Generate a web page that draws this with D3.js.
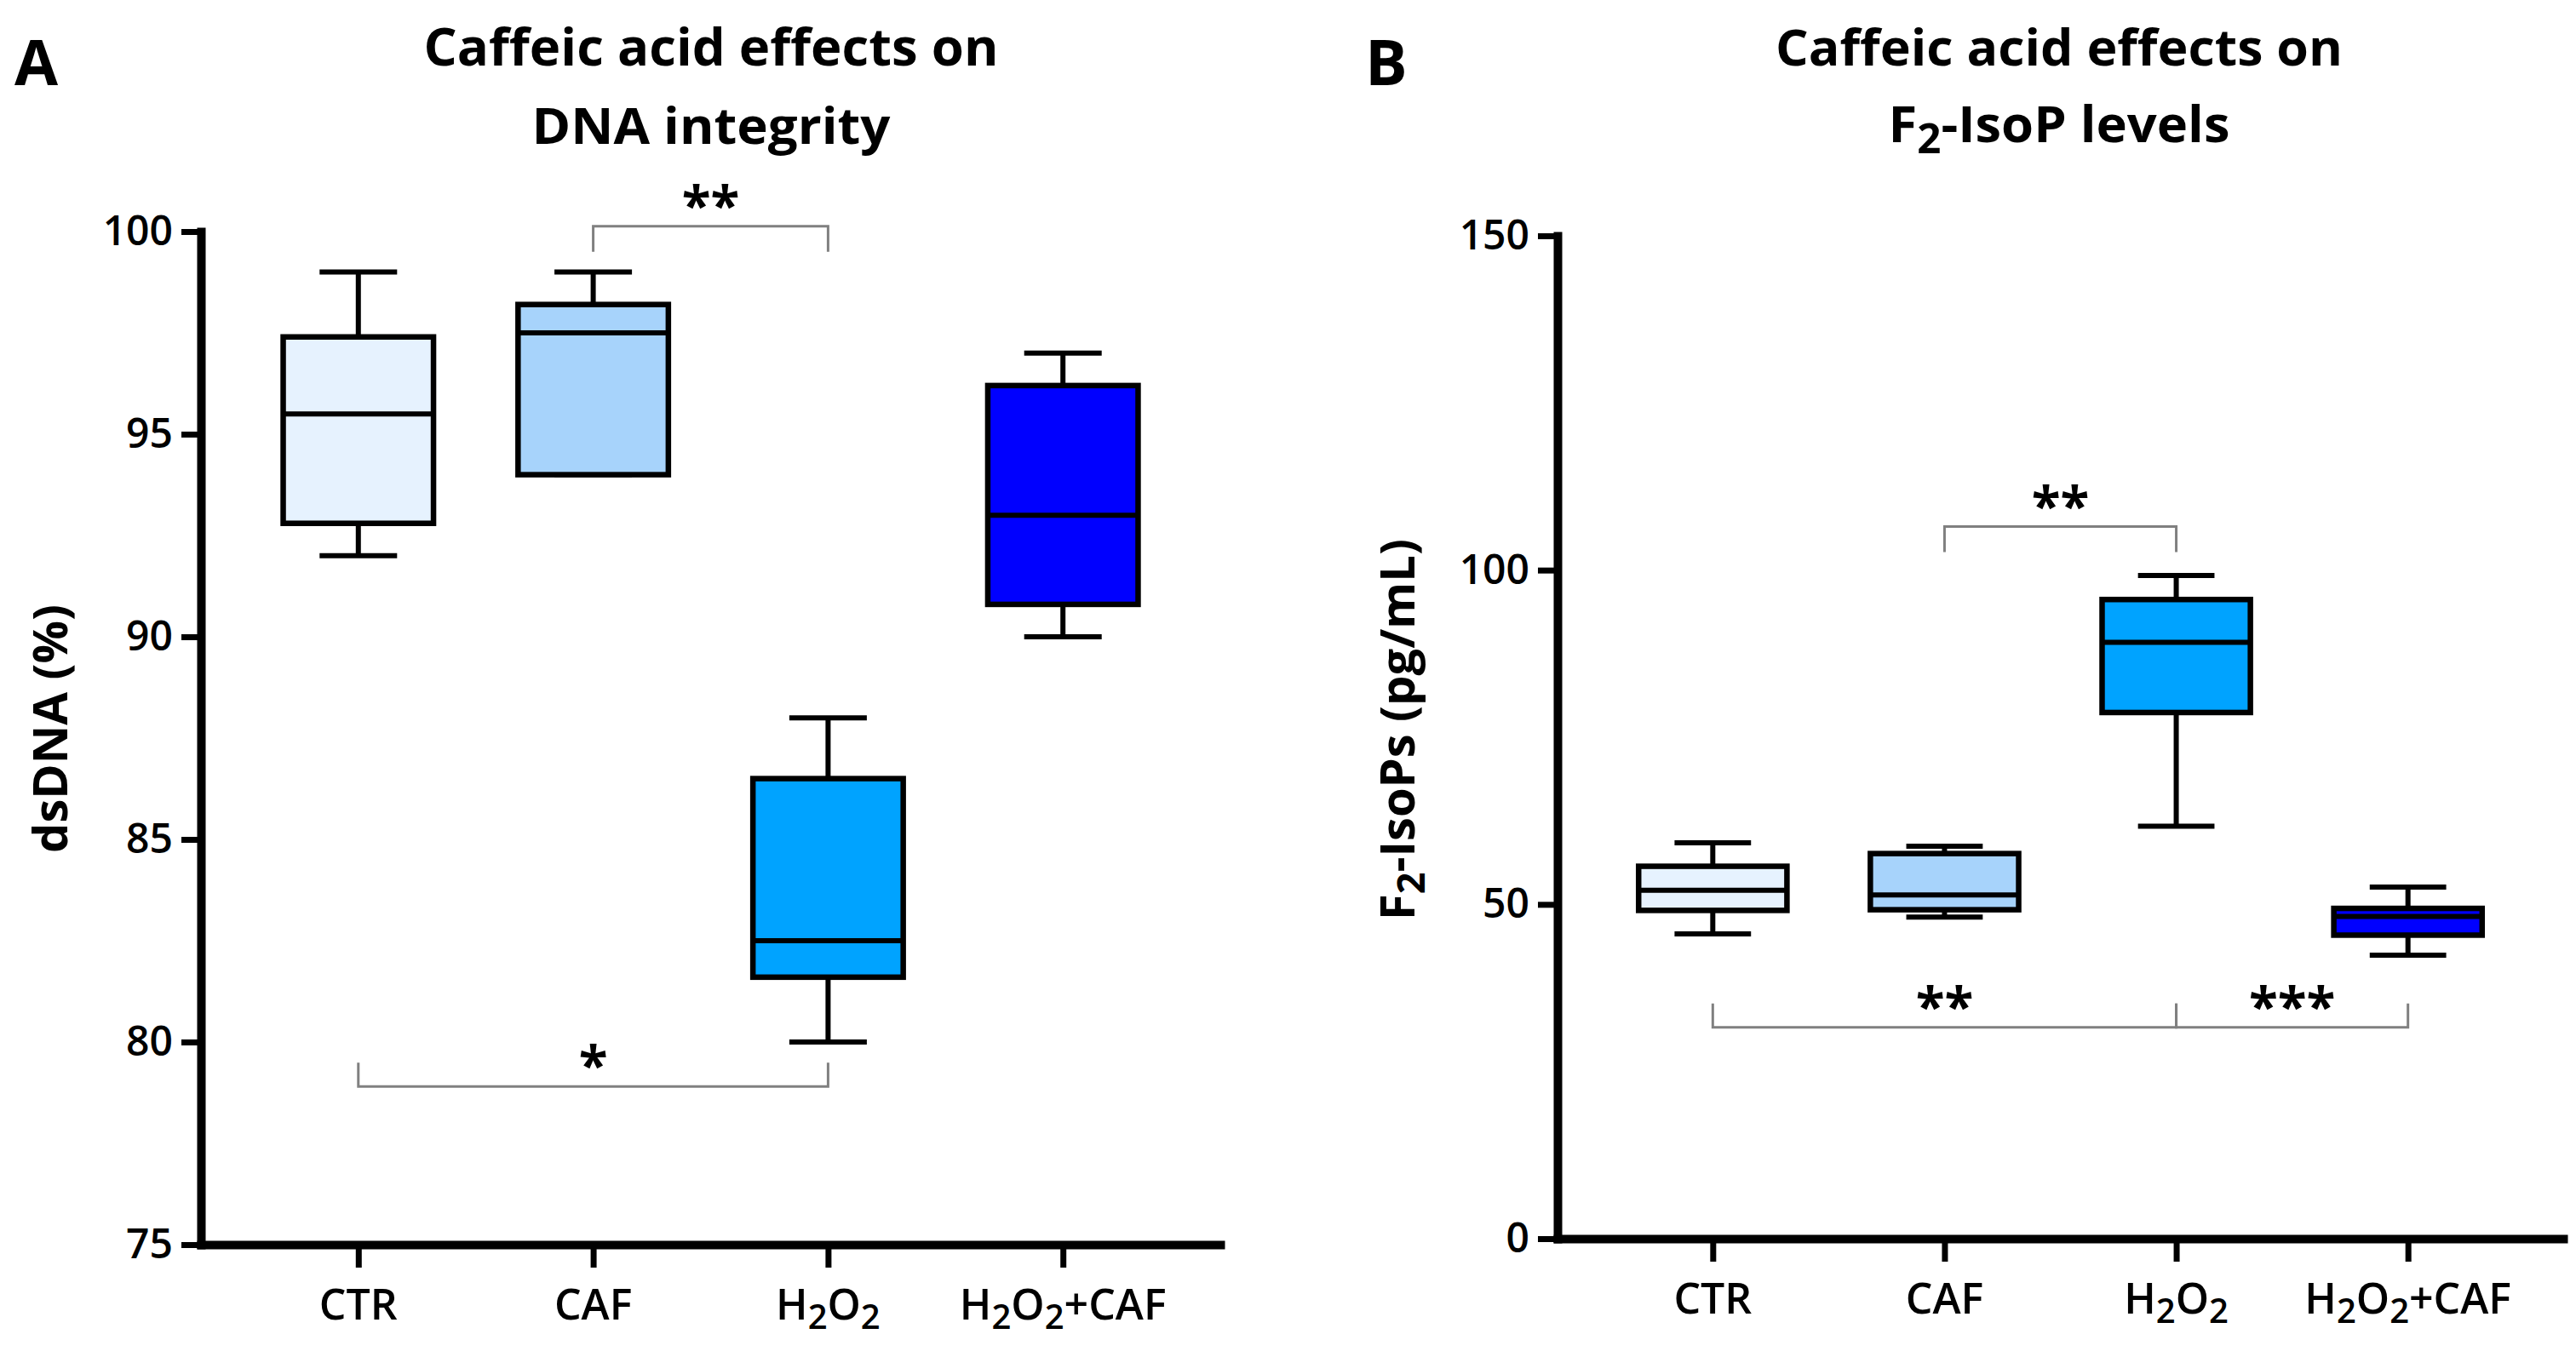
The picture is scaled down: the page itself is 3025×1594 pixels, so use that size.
<!DOCTYPE html>
<html><head><meta charset="utf-8">
<script src="https://cdn.jsdelivr.net/npm/d3@7"></script>
<style>body{margin:0;background:#fff}svg{display:block}</style>
</head><body>
<svg id="chart" width="3025" height="1594"></svg>
<script>
// ---------- data ----------
const categories = ["CTR", "CAF", "H2O2", "H2O2+CAF"];
const boxColors = ["#e6f2fe", "#a7d3fb", "#00a3ff", "#0000ff"];

// Panel A: dsDNA (%)
const dnaMin    = [92.0, 94.0, 80.0, 90.0];
const dnaQ1     = [92.8, 94.0, 81.6, 90.8];
const dnaMedian = [95.5, 97.5, 82.5, 93.0];
const dnaQ3     = [97.4, 98.2, 86.5, 96.2];
const dnaMax    = [99.0, 99.0, 88.0, 97.0];
const dnaTicks  = [75, 80, 85, 90, 95, 100];
const dnaSigFrom  = ["CAF", "CTR"];
const dnaSigTo    = ["H2O2", "H2O2"];
const dnaSigLabel = ["**", "*"];
const dnaSigLevel = [100.13, 78.9];
const dnaSigDir   = [1, -1];

// Panel B: F2-IsoPs (pg/mL)
const isoMin    = [45.6, 48.1, 61.7, 42.4];
const isoQ1     = [49.1, 49.2, 78.7, 45.4];
const isoMedian = [52.1, 51.4, 89.2, 48.2];
const isoQ3     = [55.7, 57.6, 95.6, 49.4];
const isoMax    = [59.2, 58.7, 99.2, 52.6];
const isoTicks  = [0, 50, 100, 150];
const isoSigFrom  = ["CAF", "CTR", "H2O2"];
const isoSigTo    = ["H2O2", "H2O2", "H2O2+CAF"];
const isoSigLabel = ["**", "**", "***"];
const isoSigLevel = [106.5, 31.6, 31.6];
const isoSigDir   = [1, -1, -1];

// ---------- drawing ----------
const FONT = "'Open Sans', 'DejaVu Sans', sans-serif";
const svg = d3.select("#chart");
svg.append("rect").attr("width", 3025).attr("height", 1594).attr("fill", "#fff");

function addSubText(sel, str, fs) {
  // digits rendered as subscripts
  const parts = str.match(/\d+|[^\d]+/g);
  const shift = 0.22 * fs;
  let prevSub = false;
  parts.forEach(p => {
    const isSub = /^\d+$/.test(p);
    const t = sel.append("tspan").text(p);
    if (isSub) {
      t.attr("font-size", fs * 0.8).attr("dy", shift);
    } else if (prevSub) {
      t.attr("dy", -shift);
    }
    prevSub = isSub;
  });
}

function fitWidth(sel, target, cx) {
  const w = sel.node().getComputedTextLength();
  const s = target / w;
  sel.attr("x", 0).attr("transform", `translate(${cx},0) scale(${s},1)`);
}

function panel(o) {
  const g = svg.append("g");
  const x = d3.scalePoint().domain(categories).range([o.x0, o.x1]).padding(0.67);
  const y = d3.scaleLinear().domain(o.domain).range([o.yBottom, o.yTop]);
  const step = x.step();
  const bw = step * 0.64, cw = step * 0.33;

  // y axis
  const ya = g.append("g").attr("transform", `translate(${o.x0},0)`)
    .call(d3.axisLeft(y).tickValues(o.ticks).tickSize(23).tickSizeOuter(0).tickPadding(10));
  ya.attr("font-family", null).attr("font-size", null);
  ya.select(".domain").attr("stroke", "#000").attr("stroke-width", 10).attr("stroke-linecap", "square");
  ya.selectAll(".tick line").attr("stroke", "#000").attr("stroke-width", 7);
  ya.selectAll(".tick text").attr("font-family", FONT).attr("font-size", 48)
    .attr("font-weight", 600).attr("fill", "#000");

  // x axis
  const xa = g.append("g").attr("transform", `translate(0,${o.yBottom})`)
    .call(d3.axisBottom(x).tickSize(27).tickSizeOuter(0).tickFormat(() => ""));
  xa.select(".domain").attr("stroke", "#000").attr("stroke-width", 10).attr("stroke-linecap", "square");
  xa.selectAll(".tick line").attr("stroke", "#000").attr("stroke-width", 7);

  g.selectAll(".xlab").data(categories).enter().append("text")
    .attr("class", "xlab")
    .attr("x", d => x(d)).attr("y", o.yBottom + 88)
    .attr("text-anchor", "middle").attr("font-family", FONT)
    .attr("font-size", 50).attr("font-weight", 600).attr("fill", "#000")
    .each(function (d) { addSubText(d3.select(this), d, 50); });

  // boxes
  const bg = g.append("g");
  categories.forEach((c, i) => {
    const cx = x(c);
    const line = (x1, y1, x2, y2) => bg.append("line")
      .attr("x1", x1).attr("y1", y1).attr("x2", x2).attr("y2", y2)
      .attr("stroke", "#000").attr("stroke-width", 6);
    line(cx, y(o.max[i]), cx, y(o.q3[i]));
    line(cx, y(o.q1[i]), cx, y(o.min[i]));
    line(cx - cw / 2, y(o.max[i]), cx + cw / 2, y(o.max[i]));
    line(cx - cw / 2, y(o.min[i]), cx + cw / 2, y(o.min[i]));
    bg.append("rect")
      .attr("x", cx - bw / 2).attr("width", bw)
      .attr("y", y(o.q3[i])).attr("height", y(o.q1[i]) - y(o.q3[i]))
      .attr("fill", boxColors[i]).attr("stroke", "#000").attr("stroke-width", 6.5);
    line(cx - bw / 2, y(o.median[i]), cx + bw / 2, y(o.median[i]));
  });

  // significance brackets
  o.sigFrom.forEach((f, j) => {
    const x1 = x(f), x2 = x(o.sigTo[j]), ly = y(o.sigLevel[j]);
    const leg = o.sigDir[j] > 0 ? 30 : -28;
    g.append("path")
      .attr("d", `M${x1},${ly + leg}V${ly}H${x2}V${ly + leg}`)
      .attr("fill", "none").attr("stroke", "#808080").attr("stroke-width", 3);
    g.append("text")
      .attr("x", (x1 + x2) / 2).attr("y", ly - 38 + 36)
      .attr("text-anchor", "middle").attr("font-family", FONT)
      .attr("font-size", 62).attr("font-weight", 700).attr("fill", "#000")
      .text(o.sigLabel[j]);
  });

  // y label
  const yl = g.append("text")
    .attr("transform", `translate(${o.ylabX},${o.ylabY}) rotate(-90)`)
    .attr("text-anchor", "middle").attr("font-family", FONT)
    .attr("font-size", 56).attr("font-weight", 700).attr("fill", "#000");
  addSubText(yl, o.ylabel, 56);

  // titles
  o.title.forEach((t, k) => {
    const tt = g.append("text").attr("y", o.titleY[k])
      .attr("text-anchor", "middle").attr("font-family", FONT)
      .attr("font-size", 60).attr("font-weight", 700).attr("fill", "#000");
    addSubText(tt, t, 60);
    fitWidth(tt, o.titleW[k], o.titleX);
  });

  // panel letter
  g.append("text").attr("x", o.letterX).attr("y", 100)
    .attr("font-family", FONT).attr("font-size", 74).attr("font-weight", 700)
    .attr("fill", "#000").text(o.letter);
}

panel({
  x0: 236, x1: 1433, yBottom: 1462, yTop: 272, domain: [75, 100], ticks: dnaTicks,
  min: dnaMin, q1: dnaQ1, median: dnaMedian, q3: dnaQ3, max: dnaMax,
  sigFrom: dnaSigFrom, sigTo: dnaSigTo, sigLabel: dnaSigLabel, sigLevel: dnaSigLevel, sigDir: dnaSigDir,
  ylabel: "dsDNA (%)", ylabX: 79, ylabY: 856,
  title: ["Caffeic acid effects on", "DNA integrity"], titleX: 835, titleY: [77, 169], titleW: [675, 421],
  letter: "A", letterX: 17
});

panel({
  x0: 1829, x1: 3010, yBottom: 1455, yTop: 277, domain: [0, 150], ticks: isoTicks,
  min: isoMin, q1: isoQ1, median: isoMedian, q3: isoQ3, max: isoMax,
  sigFrom: isoSigFrom, sigTo: isoSigTo, sigLabel: isoSigLabel, sigLevel: isoSigLevel, sigDir: isoSigDir,
  ylabel: "F2-IsoPs (pg/mL)", ylabX: 1661, ylabY: 857,
  title: ["Caffeic acid effects on", "F2-IsoP levels"], titleX: 2418, titleY: [77, 167], titleW: [666, 401],
  letter: "B", letterX: 1603
});
</script>
</body></html>
